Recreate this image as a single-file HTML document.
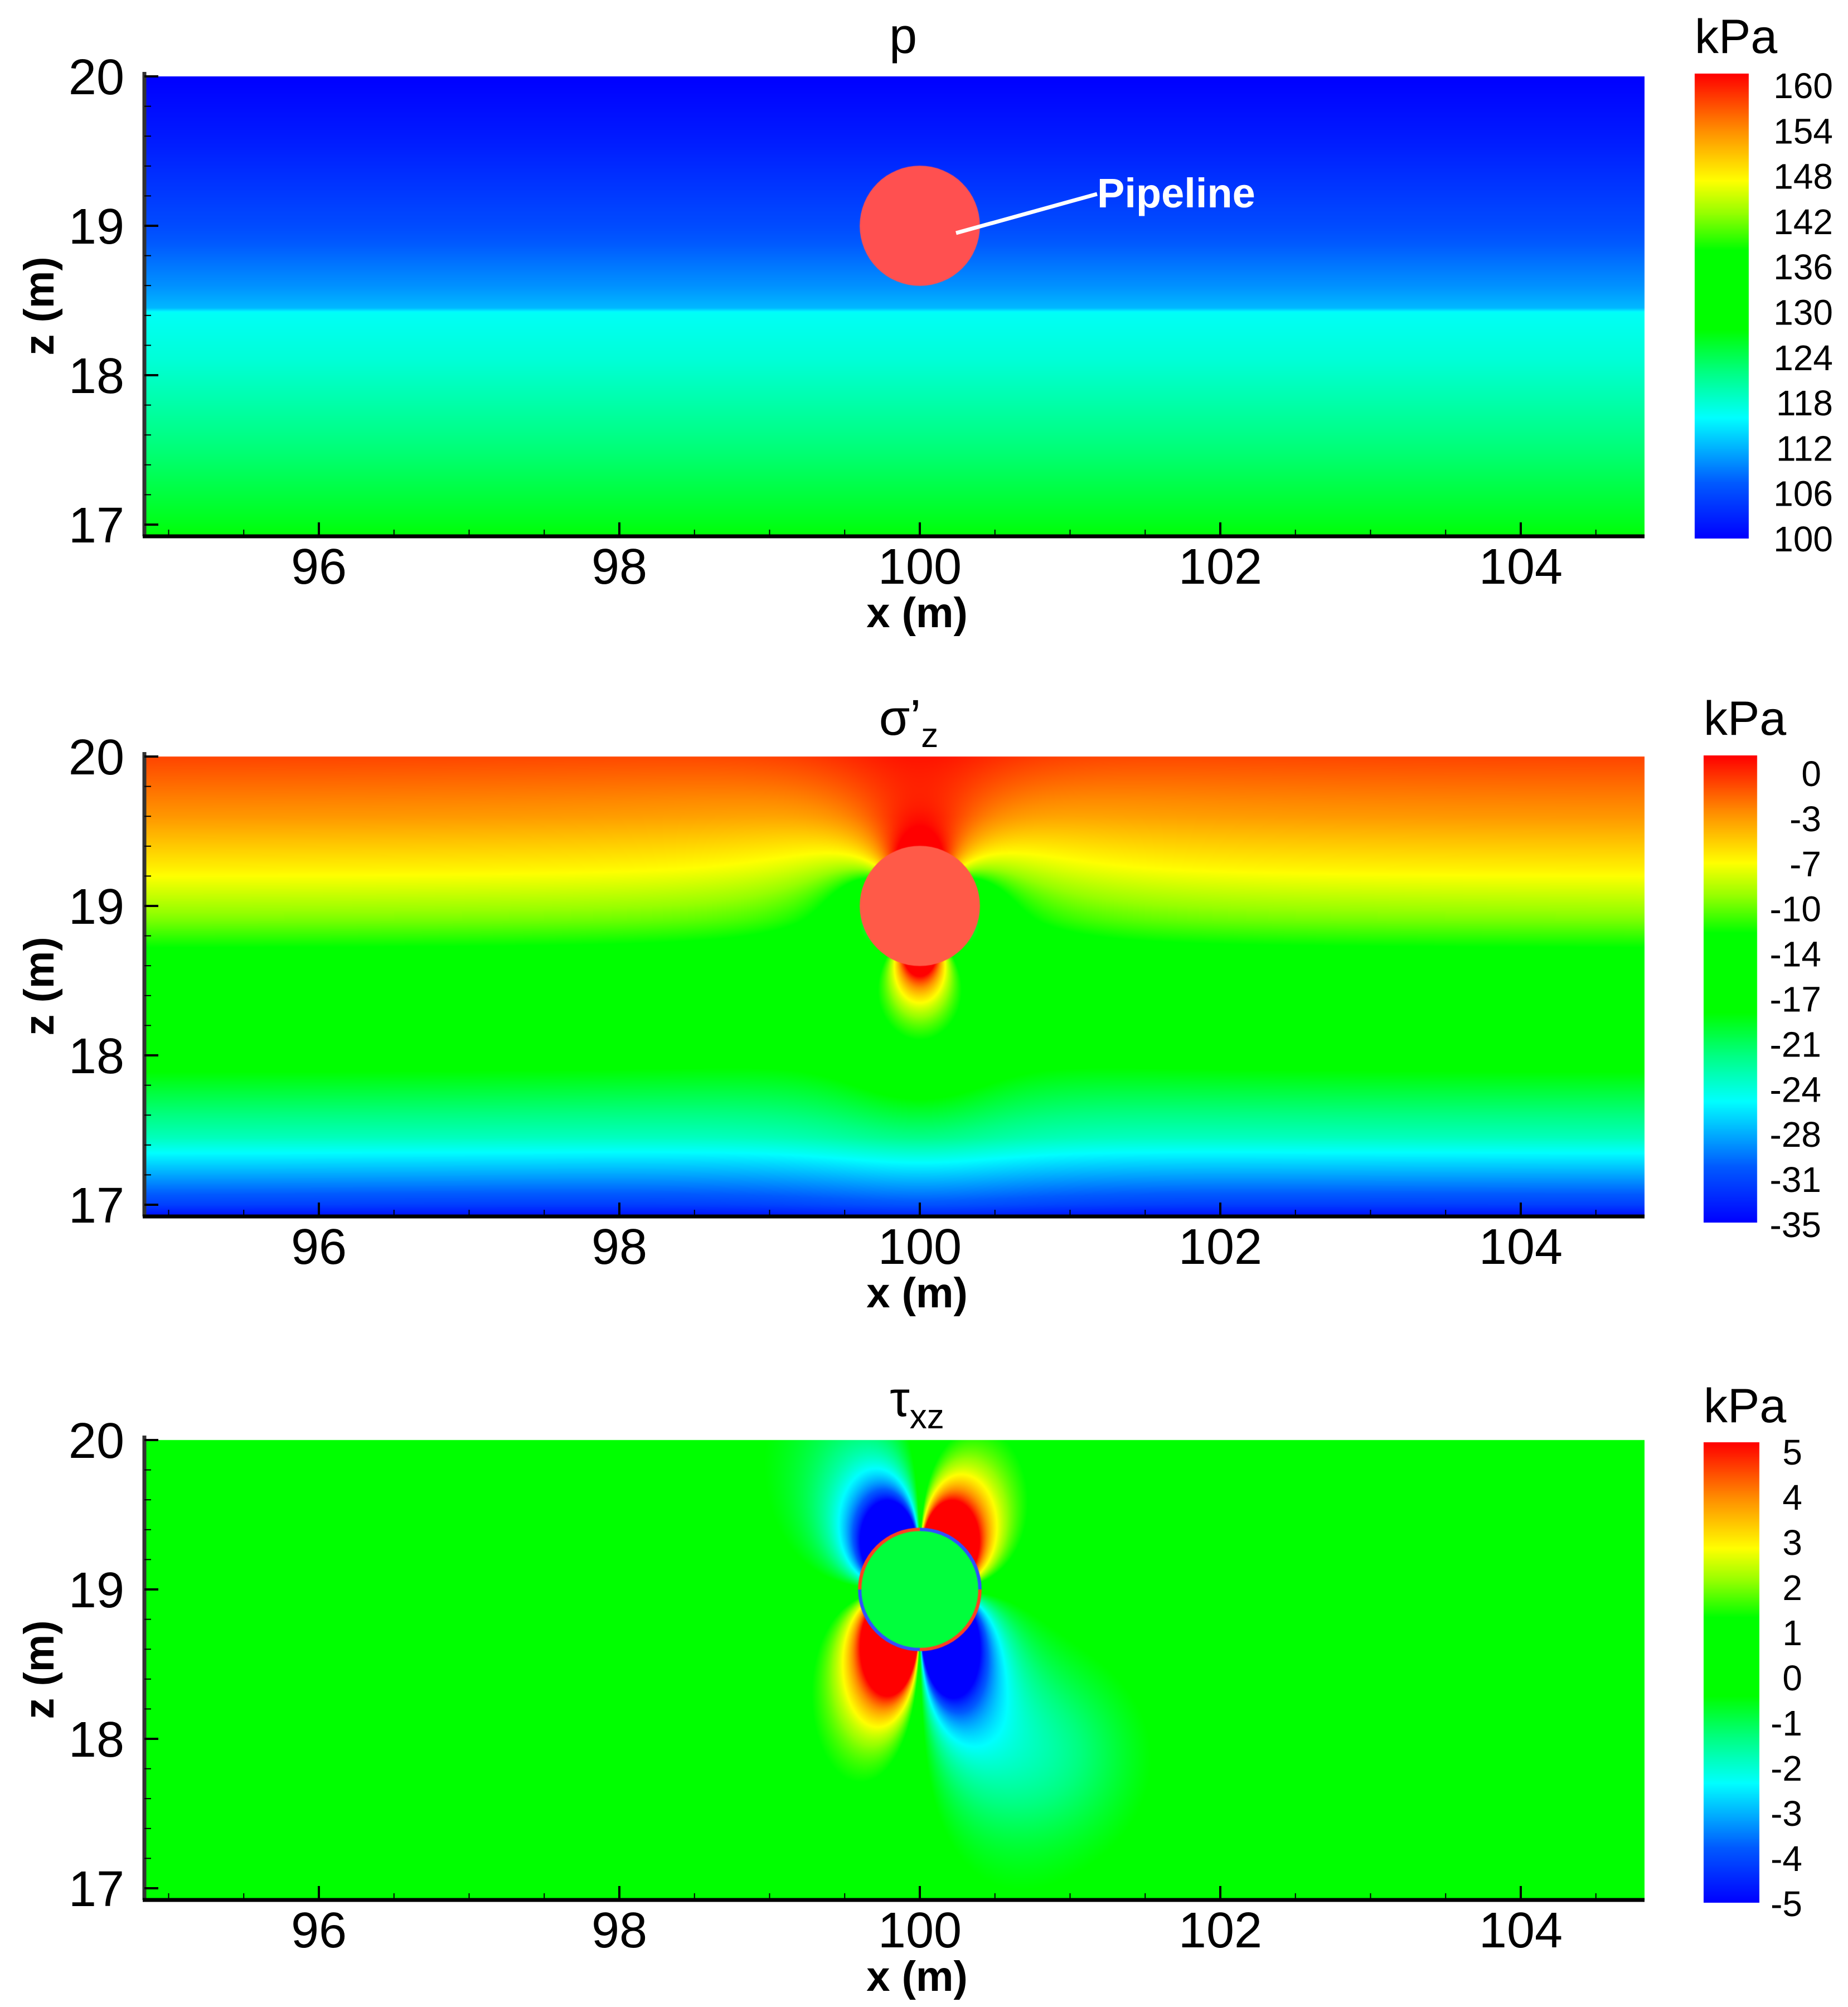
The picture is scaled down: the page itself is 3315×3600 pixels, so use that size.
<!DOCTYPE html>
<html><head><meta charset="utf-8">
<style>
html,body{margin:0;padding:0;background:#fff;}
#wrap{position:relative;width:3315px;height:3600px;overflow:hidden;background:#fff;}
canvas,svg{position:absolute;left:0;top:0;}
text{font-family:"Liberation Sans",Arial,sans-serif;fill:#000;}
</style></head>
<body>
<div id="wrap">
<canvas id="cv" width="3315" height="3600"></canvas>
<svg id="ov" width="3315" height="3600"></svg>
</div>
<script>
// ---------- data ----------
const xTicks = [96, 98, 100, 102, 104];
const zTicks = [17, 18, 19, 20];
const pipeX = 100, pipeZ = 19, pipeR = 0.4;
// panel 1: pore pressure profile p(z)
const pZ    = [20, 19.6, 19, 18.6, 18.45, 18.42, 18.1, 17.5, 17, 16.9];
const pVals = [100, 102, 106, 110, 112, 116, 117.5, 122, 126, 127];
const pPipe = [160];
const pLabels = ['160','154','148','142','136','130','124','118','112','106','100'];
// panel 2: sigma'z profile
const sZ    = [20, 19.6, 19.25, 18.9, 18.7, 18.0, 17.45, 17.0, 16.9];
const sVals = [-2, -4.5, -7.5, -11, -13.5, -18, -24, -32, -35];
const sAmp  = [9];
const sStretchDown = [1.5];
const sLabels = ['0','-3','-7','-10','-14','-17','-21','-24','-28','-31','-35'];
// panel 3: tau_xz lobes
const tAmp = [8];
const tStretchUp = [1.5], tStretchDown = [1.8];
const tLabels = ['5','4','3','2','1','0','-1','-2','-3','-4','-5'];
const ranges = [[100,160],[-35,0],[-5,5]];

// ---------- layout ----------
const T = [137, 1357, 2583];
const PZ = 268, X0 = 259, X1 = 2950, XC = 1650, PXm = 269.5;
const CB = [[3040,3137,132,966,3288,153,966,95],[3056,3152,1355,2193,3267,1387,2196,1318],[3056,3156,2587,3413,3233,2604,3414,2551]];
function px(x){return XC+(x-100)*PXm;}
function pz(i,z){return T[i]+(20-z)*PZ;}
function xOf(p){return 100+(p-XC)/PXm;}
function zOf(i,p){return 20-(p-T[i])/PZ;}
const cPos=[0,0.12,0.26,0.36,0.45,0.62,0.70,0.77,0.88,1];
const cR=[0,0,0,0,0,0,150,255,255,255];
const cG=[0,90,255,255,255,255,255,255,140,0];
const cB=[255,255,255,128,0,0,0,0,0,0];
function cmap(t){t=Math.max(0,Math.min(1,t));let k=0;while(k<cPos.length-2&&t>cPos[k+1])k++;
 const f=(t-cPos[k])/(cPos[k+1]-cPos[k]);return [cR[k]+(cR[k+1]-cR[k])*f,cG[k]+(cG[k+1]-cG[k])*f,cB[k]+(cB[k+1]-cB[k])*f];}
function interp(xs,ys,v){ // xs descending
 if(v>=xs[0])return ys[0]; for(let i=0;i<xs.length-1;i++){if(v>=xs[i+1]){const f=(xs[i]-v)/(xs[i]-xs[i+1]);return ys[i]+(ys[i+1]-ys[i])*f;}} return ys[ys.length-1];}
function f1(x,z){return interp(pZ,pVals,z);}
function f2(x,z){const b=interp(sZ,sVals,z);const dx=x-pipeX,dz0=z-pipeZ;const dz=dz0<0?dz0/sStretchDown[0]:dz0;const r2=dx*dx+dz*dz;
 return b+sAmp[0]*(pipeR*pipeR/r2)*(dz*dz-dx*dx)/r2;}
function f3(x,z){const dx=x-pipeX,dz0=z-pipeZ;const dz=dz0>0?dz0/tStretchUp[0]:dz0/tStretchDown[0];
 const r2=dx*dx+dz*dz;let v=tAmp[0]*Math.pow(pipeR*pipeR/r2,1.2)*(2*dx*dz/r2);
 const gx=(x-100.9)/0.6,gz=(z-17.9)/0.6;v+=-1.0*Math.exp(-(gx*gx+gz*gz));return v;}
const fns=[f1,f2,f3];
const cv=document.getElementById('cv'),ctx=cv.getContext('2d');
for(let i=0;i<3;i++){
 const y0=T[i],h=825,w=X1-X0;const img=ctx.createImageData(w,h);const [lo,hi]=ranges[i];
 for(let yy=0;yy<h;yy++){const z=zOf(i,y0+yy+0.5);for(let xx=0;xx<w;xx++){const x=xOf(X0+xx+0.5);
  const c=cmap((fns[i](x,z)-lo)/(hi-lo));const o=(yy*w+xx)*4;img.data[o]=c[0];img.data[o+1]=c[1];img.data[o+2]=c[2];img.data[o+3]=255;}}
 ctx.putImageData(img,X0,y0);
 // pipe
 const cx=px(pipeX),cy=pz(i,pipeZ),rr=pipeR*PXm;
 ctx.beginPath();ctx.arc(cx,cy,rr,0,2*Math.PI);
 ctx.fillStyle=i===0?'rgb(255,80,80)':(i===1?'rgb(255,90,72)':'rgb(0,255,60)');ctx.fill();
 if(i===2){const segs=[[Math.PI,1.5*Math.PI,'#ff4020'],[1.5*Math.PI,2*Math.PI,'#3050ff'],[0,0.5*Math.PI,'#ff4020'],[0.5*Math.PI,Math.PI,'#3050ff']];
  segs.forEach(s=>{ctx.beginPath();ctx.arc(cx,cy,rr,s[0],s[1]);ctx.strokeStyle=s[2];ctx.lineWidth=6;ctx.stroke();});}
 // colorbar
 const cb=CB[i];for(let yy=cb[2];yy<cb[3];yy++){const c=cmap(1-(yy-cb[2])/(cb[3]-cb[2]));ctx.fillStyle='rgb('+c.map(Math.round).join(',')+')';ctx.fillRect(cb[0],yy,cb[1]-cb[0],1);}
}
// ---------- overlay ----------
const NS='http://www.w3.org/2000/svg',ov=document.getElementById('ov');
function el(tag,attrs,txt){const e=document.createElementNS(NS,tag);for(const k in attrs)e.setAttribute(k,attrs[k]);if(txt!==undefined)e.textContent=txt;ov.appendChild(e);return e;}
const titles=[['p',''],['σ’','z'],['τ','xz']];const tcx=[1620,1630,1645];const tby=[95,1318,2540];
const labelsAll=[pLabels,sLabels,tLabels];
for(let i=0;i<3;i++){
 const bot=T[i]+825;
 let e=el('line',{x1:X0,y1:T[i]-8,x2:X0,y2:bot,stroke:'#333',"stroke-width":7});
 
 
 e=el('line',{x1:X0-3,y1:bot,x2:X1,y2:bot,stroke:'#000',"stroke-width":7});
 
 
 for(let z=17;z<=20.001;z+=0.2){const y=pz(i,z);const maj=Math.abs(z-Math.round(z))<1e-6;
  e=el('line',{x1:X0,y1:y,x2:X0+(maj?25:12),y2:y,stroke:'#000',"stroke-width":maj?4:2});
  
  }
 for(let x=95;x<=104.6;x+=0.5){const X=px(x);const maj=Math.abs(x/2-Math.round(x/2))<1e-6;
  e=el('line',{x1:X,y1:bot,x2:X,y2:bot-(maj?25:12),stroke:'#000',"stroke-width":maj?4:2});
  
  }
 zTicks.forEach(z=>{e=el('text',{x:223,y:pz(i,z)+32,"font-size":90,"text-anchor":"end"},String(z));
  
  });
 xTicks.forEach(x=>{e=el('text',{x:px(x),y:bot+85,"font-size":90,"text-anchor":"middle"},String(x));
  
  });
 e=el('text',{x:px(100)-5,y:bot+163,"font-size":76,"font-weight":"bold","text-anchor":"middle"},'x (m)');
 
 
 const yc=T[i]+412;
 e=el('text',{x:0,y:0,"font-size":76,"font-weight":"bold","text-anchor":"middle",transform:'translate(96,'+yc+') rotate(-90)'},'z (m)');
 
 
 e=el('text',{x:tcx[i],y:tby[i],"font-size":90,"text-anchor":"middle"});
 
 
 const t1=document.createElementNS(NS,'tspan');t1.textContent=titles[i][0];e.appendChild(t1);
 if(titles[i][1]){const t2=document.createElementNS(NS,'tspan');t2.setAttribute('font-size','62');t2.setAttribute('dy','22');t2.textContent=titles[i][1];e.appendChild(t2);}
 const cb=CB[i];
 e=el('text',{x:cb[0],y:cb[7],"font-size":86},'kPa');
 
 
 const L=labelsAll[i];
 L.forEach((s,k)=>{const y=cb[5]+(cb[6]-cb[5])*k/(L.length-1);
  e=el('text',{x:cb[4],y:y+23,"font-size":64,"text-anchor":"end"},s);
  
  });
}
let e=el('line',{x1:1715,y1:418,x2:1968,y2:348,stroke:'#fff',"stroke-width":7});


e=el('text',{x:1968,y:372,"font-size":74,"font-weight":"bold",fill:'#fff',style:'fill:#fff'},'Pipeline');


</script>
</body></html>
